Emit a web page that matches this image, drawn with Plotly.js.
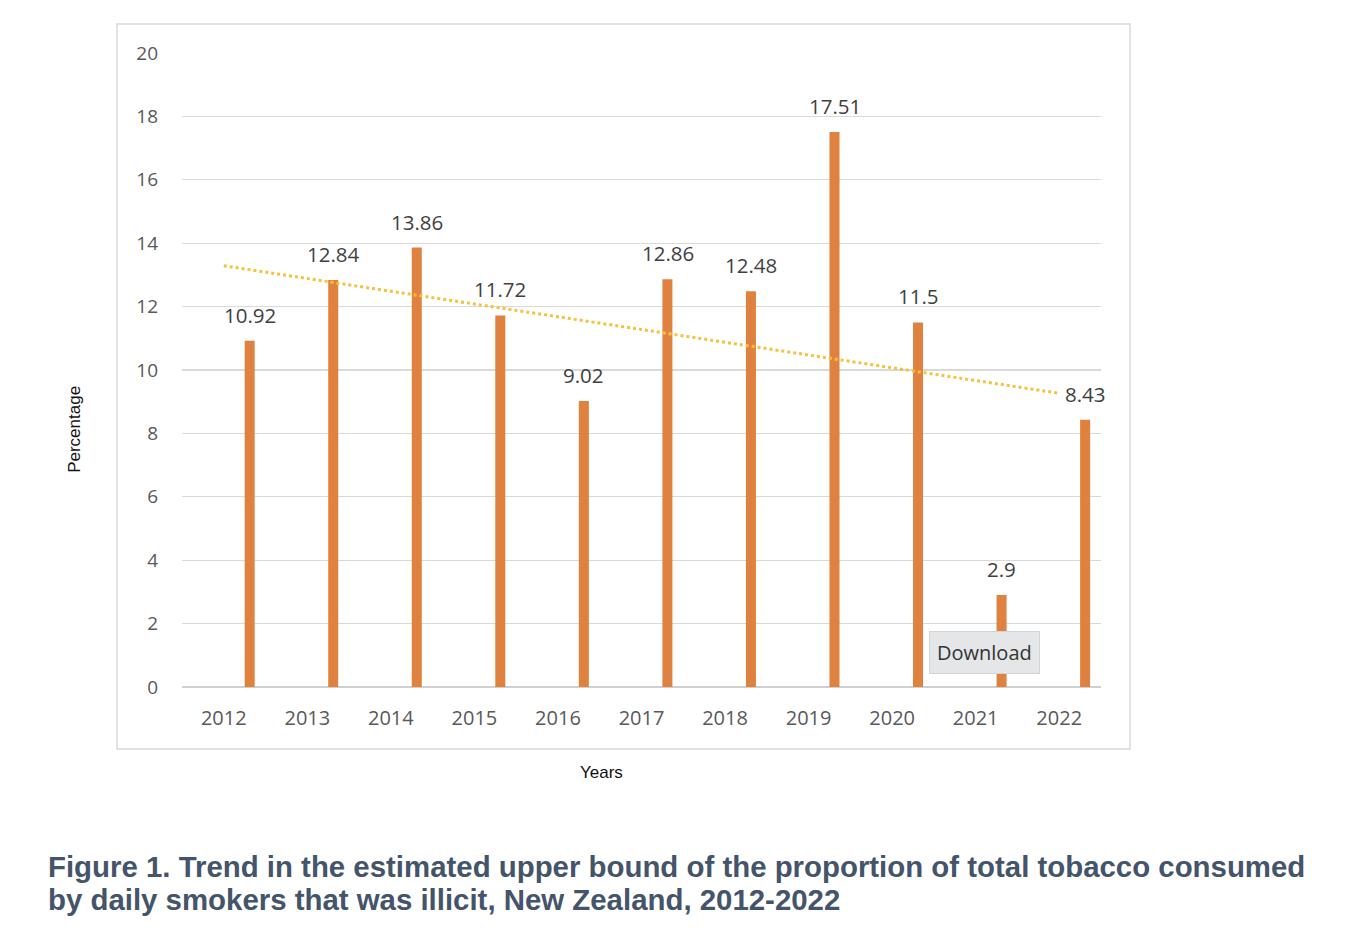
<!DOCTYPE html>
<html>
<head>
<meta charset="utf-8">
<script src="https://cdn.plot.ly/plotly-3.0.1.min.js"></script>
<style>
  html, body { margin: 0; padding: 0; background: #fff; }
  #plotarea { width: 1354px; height: 940px; }
</style>
</head>
<body>
<div id="plotarea"></div>
<script>
let years = ['2012', '2013', '2014', '2015', '2016', '2017', '2018', '2019', '2020', '2021', '2022'];
let pct = [10.92, 12.84, 13.86, 11.72, 9.02, 12.86, 12.48, 17.51, 11.5, 2.9, 8.43];
let yTicks = [0, 2, 4, 6, 8, 10, 12, 14, 16, 18, 20];
let captionLines = [
    'Figure 1. Trend in the estimated upper bound of the proportion of total tobacco consumed',
    'by daily smokers that was illicit, New Zealand, 2012-2022'
];

//Linear fit least square
function linearfit(x, y){
    let n = x.length;
    let sumX = 0, sumX2 = 0, sumY = 0, sumXY = 0;
    for(let i = 0; i < n; i++){
        sumX += x[i];
        sumX2 += x[i]*x[i];
        sumY += y[i];
        sumXY += x[i]*y[i];
    }
    let d = n*sumX2 - sumX*sumX;
    return [(sumY*sumX2 - sumX*sumXY)/d, (n*sumXY - sumX*sumY)/d];
}

let idx = years.map((v, i) => i + 1);
let b = linearfit(idx, pct);
let trend = idx.map(x => b[0] + b[1]*x);

let bars = {
    x: years,
    y: pct,
    type: 'bar',
    width: 0.12,
    offset: 0.25,
    marker: {color: '#e0823f'},
    hoverinfo: 'skip'
};

let trendline = {
    x: years,
    y: trend,
    mode: 'lines',
    line: {color: '#f5c23e', width: 3, dash: 'dot'},
    hoverinfo: 'skip'
};

let labelFont = {family: 'Open Sans, sans-serif', size: 20.5, color: '#3f3f3f'};

// value labels sit over the (shifted) bars; x is the category index
let annotations = pct.map((v, i) => ({
    x: i, y: v, xref: 'x', yref: 'y',
    text: String(v), showarrow: false,
    xanchor: 'center', yanchor: 'middle',
    xshift: 26, yshift: 26,
    font: labelFont
}));

annotations.push({
    xref: 'paper', yref: 'paper', x: -0.1164, y: 0.405,
    xanchor: 'center', yanchor: 'middle',
    text: 'Percentage', textangle: -90, showarrow: false,
    font: {family: 'Liberation Sans, Arial, sans-serif', size: 17, color: '#111111'}
});
annotations.push({
    xref: 'paper', yref: 'paper', x: 0.457, y: -0.135,
    xanchor: 'center', yanchor: 'middle',
    text: 'Years', showarrow: false,
    font: {family: 'Liberation Sans, Arial, sans-serif', size: 17, color: '#111111'}
});
let capY = [-0.2819, -0.3354];
captionLines.forEach((t, i) => {
    annotations.push({
        xref: 'paper', yref: 'paper', x: -0.148, y: capY[i],
        xanchor: 'left', yanchor: 'middle', align: 'left',
        text: '<b>' + t + '</b>',
        showarrow: false,
        font: {family: 'Liberation Sans, Arial, sans-serif', size: 29.4, color: '#44546a'}
    });
});
annotations.push({
    xref: 'paper', yref: 'paper', x: 0.8727, y: 0.0551,
    xanchor: 'center', yanchor: 'middle',
    text: 'Download', showarrow: false,
    bgcolor: '#e5e6e8', bordercolor: '#d2d3d5', borderwidth: 1, borderpad: 7,
    font: {family: 'Open Sans, sans-serif', size: 20, color: '#333333'}
});

let layout = {
    width: 1354,
    height: 940,
    margin: {l: 182, r: 253, t: 52, b: 253},
    paper_bgcolor: '#ffffff',
    plot_bgcolor: '#ffffff',
    showlegend: false,
    xaxis: {
        type: 'category',
        range: [-0.5, 10.5],
        showgrid: false,
        showline: false,
        ticks: '',
        ticklabelstandoff: 17,
        tickfont: {family: 'Open Sans, sans-serif', size: 20, color: '#595959'},
        fixedrange: true
    },
    yaxis: {
        range: [0, 20.03],
        tickvals: yTicks,
        showgrid: true,
        gridcolor: '#d9d9d9',
        gridwidth: 1.3,
        zeroline: true,
        zerolinecolor: '#d0d0d0',
        zerolinewidth: 1.5,
        showline: false,
        ticks: '',
        ticklabelstandoff: 23,
        tickfont: {family: 'Open Sans, sans-serif', size: 19, color: '#595959'},
        fixedrange: true
    },
    shapes: [{
        type: 'rect', xref: 'paper', yref: 'paper',
        x0: -0.0707, x1: 1.0316, y0: -0.0976, y1: 1.044,
        line: {color: '#d9d9d9', width: 1.5},
        layer: 'below'
    }],
    annotations: annotations
};

Plotly.newPlot('plotarea', [bars, trendline], layout, {displayModeBar: false, staticPlot: true});
</script>
</body>
</html>
